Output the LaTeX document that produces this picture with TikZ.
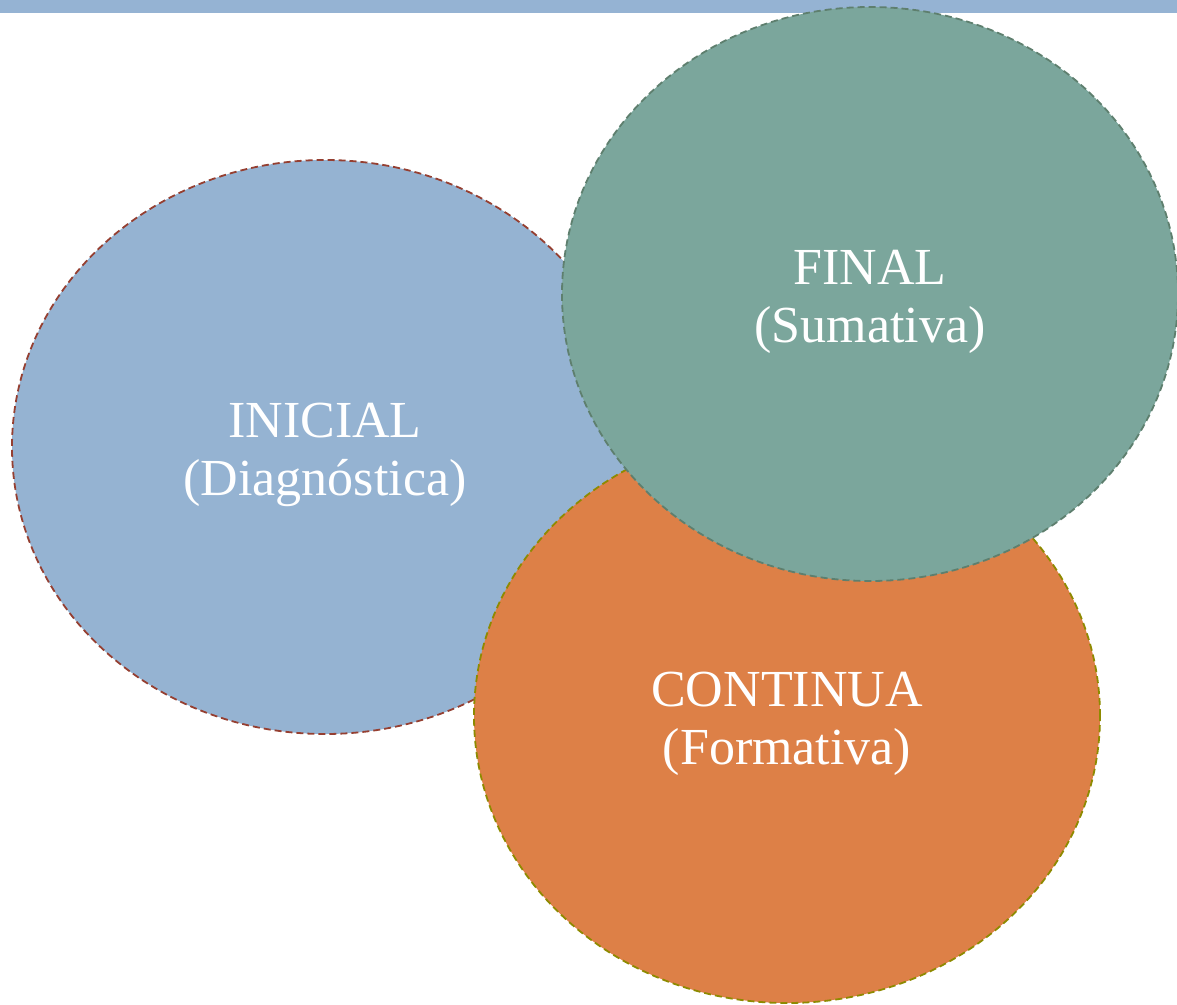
\documentclass[tikz,border=0pt]{standalone}
\usepackage{fontspec}
\setmainfont{Liberation Serif}
\usepackage{tikz}
\usetikzlibrary{positioning}
\usetikzlibrary{shapes.geometric}

\definecolor{barblue}{HTML}{95B3D3}
\definecolor{iniblue}{HTML}{95B3D2}
\definecolor{inired}{HTML}{953F31}
\definecolor{fingreen}{HTML}{7BA69C}
\definecolor{findark}{HTML}{5E7F6E}
\definecolor{conorange}{HTML}{DD8047}
\definecolor{conolive}{HTML}{8E8A00}

\begin{document}
\begin{tikzpicture}[x=1pt, y=-1pt,
ovalnode/.style={ellipse, minimum width=616pt, minimum height=574pt, inner sep=0pt, line width=1.8pt, dash pattern=on 7pt off 4pt, text=white, align=center, text height=108pt, font=\fontsize{52}{58}\selectfont},
]
\useasboundingbox (0,0) rectangle (1177,1004);
\fill[barblue] (0,0) rectangle (1177,13);

%Nodes
\node[ovalnode, draw=inired, fill=iniblue, minimum width=626pt]      (inicial)  at (325,447)   {INICIAL\\(Diagnóstica)};
\node[ovalnode, draw=conolive, fill=conorange, minimum width=626pt] (continua) at (787,716)   {CONTINUA\\(Formativa)};
\node[ovalnode, draw=findark, fill=fingreen]                         (final)    at (870,294)   {FINAL\\(Sumativa)};
\end{tikzpicture}
\end{document}
